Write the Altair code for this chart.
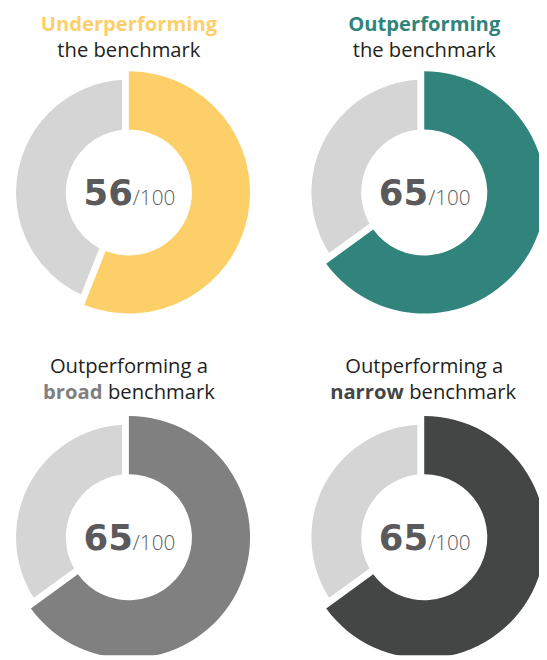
import math
import altair as alt
import pandas as pd

# ---- data ----
donuts = ["under", "out", "broad", "narrow"]
scores = [56, 65, 65, 65]
total = 100
cols = [0, 1, 0, 1]
rows = [0, 0, 1, 1]
colors = ["#FDCF69", "#31847B", "#7F807F", "#444645"]
rest_color = "#D4D5D4"

line1_text = ["Underperforming", "Outperforming", "Outperforming a", "Outperforming a"]
line1_bold = [True, True, False, False]
line2_bold = ["", "", "broad", "narrow"]
line2_rest = ["the benchmark", "the benchmark", "benchmark", "benchmark"]

# ---- tables ----
seg_rows = []
for d, s, c, r in zip(donuts, scores, cols, rows):
    seg_rows.append(dict(donut=d, part="score", value=s, order=0, col=c, row=r))
    seg_rows.append(dict(donut=d, part="rest", value=total - s, order=1, col=c, row=r))
seg = pd.DataFrame(seg_rows)

info = pd.DataFrame(dict(
    donut=donuts, score=scores, col=cols, row=rows,
    denom=["/" + str(total)] * len(donuts),
    l1=line1_text, l1bold=line1_bold, l2b=line2_bold, l2r=line2_rest,
))

TITLE_FONT = "Open Sans"
TFS = 20.5
TEXT_DARK = "#231F20"
NUM_COLOR = "#5A5A5C"

X = alt.X("col:Q", scale=alt.Scale(domain=[0, 1], range=[122.7, 422.5]), axis=None)
Y = alt.Y("row:Q", scale=alt.Scale(domain=[0, 1], range=[182.3, 532.3]), axis=None)
Y1 = alt.Y("row:Q", scale=alt.Scale(domain=[0, 1], range=[18.8, 365.5]), axis=None)
Y2 = alt.Y("row:Q", scale=alt.Scale(domain=[0, 1], range=[45.2, 391.5]), axis=None)
COLOR = alt.Color("donut:N", scale=alt.Scale(domain=donuts, range=colors), legend=None)

base = alt.Chart(seg).transform_stack(
    stack="value", groupby=["donut"], as_=["v0", "v1"],
    sort=[alt.SortField("order", order="ascending")],
)
theta = alt.Theta("v0:Q", scale=alt.Scale(domain=[0, total], range=[0, 2 * math.pi]))
theta2 = alt.Theta2("v1:Q")

R_IN, R_SCORE, R_REST = 64, 123, 114.5
GAP = 7.0
pad_rest = 2 * GAP / math.sqrt(R_IN ** 2 + R_REST ** 2)

score_arc = base.transform_filter("datum.part == 'score'").mark_arc(
    innerRadius=R_IN, outerRadius=R_SCORE, clip=True
).encode(x=X, y=Y, theta=theta, theta2=theta2, color=COLOR)

rest_arc = base.transform_filter("datum.part == 'rest'").mark_arc(
    innerRadius=R_IN, outerRadius=R_REST, padAngle=pad_rest, clip=True, color=rest_color
).encode(x=X, y=Y, theta=theta, theta2=theta2)

ib = alt.Chart(info)
num = ib.mark_text(font="DejaVu Sans", fontWeight="bold", fontSize=36, align="right",
                   baseline="alphabetic", dx=4, dy=13, color=NUM_COLOR).encode(
    x=X, y=Y, text="score:Q")
den = ib.mark_text(font="Open Sans", fontWeight=300, fontSize=21, align="left",
                   baseline="alphabetic", dx=4, dy=13, color=NUM_COLOR).encode(
    x=X, y=Y, text="denom:N")

l1b = ib.transform_filter("datum.l1bold").mark_text(
    font=TITLE_FONT, fontWeight="bold", fontSize=TFS, align="center", baseline="alphabetic"
).encode(x=X, y=Y1, text="l1:N", color=COLOR)
l1r = ib.transform_filter("!datum.l1bold").mark_text(
    font=TITLE_FONT, fontSize=TFS, align="center", baseline="alphabetic", color=TEXT_DARK
).encode(x=X, y=Y1, text="l1:N")

l2_full = ib.transform_filter("datum.l2b == ''").mark_text(
    font=TITLE_FONT, fontSize=TFS, align="center", baseline="alphabetic", color=TEXT_DARK
).encode(x=X, y=Y2, text="l2r:N")

splits = {"broad": -24, "narrow": -18}
mixed = []
for i, d in enumerate(donuts):
    if line2_bold[i] == "":
        continue
    sp = splits[d]
    f = ib.transform_filter(alt.datum.donut == d)
    mixed.append(f.mark_text(font=TITLE_FONT, fontWeight="bold", fontSize=TFS, align="right",
                             baseline="alphabetic", dx=sp - 2.8).encode(
        x=X, y=Y2, text="l2b:N", color=COLOR))
    mixed.append(f.mark_text(font=TITLE_FONT, fontSize=TFS, align="left",
                             baseline="alphabetic", dx=sp + 2.8, color=TEXT_DARK).encode(
        x=X, y=Y2, text="l2r:N"))

chart = alt.layer(
    rest_arc, score_arc, num, den, l1b, l1r, l2_full, *mixed
).resolve_scale(y="independent").properties(
    width=539, height=652, autosize=alt.AutoSizeParams(type="none"), padding=0,
).configure_view(stroke=None)

chart.save("out.html", embed_options={"renderer": "svg", "actions": False})
